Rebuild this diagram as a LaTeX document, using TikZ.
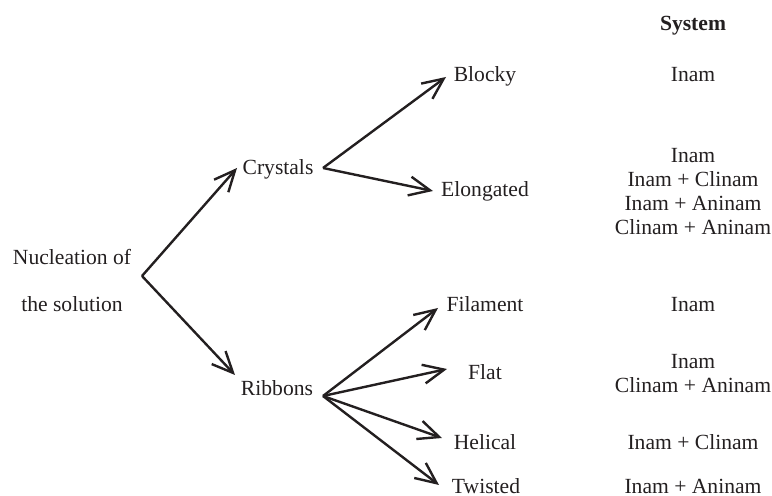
\documentclass[tikz,border=0pt]{standalone}
\usepackage{fontspec}
\setmainfont{Liberation Serif}
\usetikzlibrary{arrows.meta}
\definecolor{ink}{HTML}{231F20}
\tikzset{
    txt/.style = {anchor=base, inner sep=0pt, align=center, text=ink,
        font=\fontsize{10.8}{12.15}\selectfont},
    branch/.style = {draw=ink, line width=1.2pt,
        -{Straight Barb[length=10.5pt,width=9.5pt]}}
}

\begin{document}
\begin{tikzpicture}[x=0.5pt,y=-0.5pt]
                \useasboundingbox (0,0) rectangle (772,496);
                % labels
                \node[txt] (nucleation) at (72,312) {Nucleation of\\[11.35pt]the solution};
                \node[txt] (crystals) at (278,175) {Crystals};
                \node[txt] (ribbons) at (277,396) {Ribbons};
                \node[txt] (blocky) at (485,82) {Blocky};
                \node[txt] (elongated) at (485,197) {Elongated};
                \node[txt] (filament) at (485,312) {Filament};
                \node[txt] (flat) at (485,380) {Flat};
                \node[txt] (helical) at (485,450) {Helical};
                \node[txt] (twisted) at (486,494) {Twisted};
                % system column
                \node[txt, font=\fontsize{10.8}{12.15}\selectfont\bfseries] (system) at (693,31) {System};
                \node[txt] (sysBlocky) at (693,82) {Inam};
                \node[txt] (sysElongated) at (693,235) {Inam\\Inam + Clinam\\Inam + Aninam\\Clinam + Aninam};
                \node[txt] (sysFilament) at (693,312) {Inam};
                \node[txt] (sysFlat) at (693,393) {Inam\\Clinam + Aninam};
                \node[txt] (sysHelical) at (693,450) {Inam + Clinam};
                \node[txt] (sysTwisted) at (693,494) {Inam + Aninam};
                % branch points and arrow tips
                \coordinate (nucFork) at (142,276);
                \coordinate (cryFork) at (323,168);
                \coordinate (ribFork) at (323,396);
                \coordinate (cryTip) at (237,168);
                \coordinate (ribTip) at (235,375);
                \coordinate (blockyTip) at (446,77);
                \coordinate (elongatedTip) at (433,191);
                \coordinate (filamentTip) at (438,308);
                \coordinate (flatTip) at (447,369);
                \coordinate (helicalTip) at (442,438);
                \coordinate (twistedTip) at (439,485);
                % arrows
                \draw[branch] (nucFork) -- (cryTip);
                \draw[branch] (nucFork) -- (ribTip);
                \draw[branch] (cryFork) -- (blockyTip);
                \draw[branch] (cryFork) -- (elongatedTip);
                \draw[branch] (ribFork) -- (filamentTip);
                \draw[branch] (ribFork) -- (flatTip);
                \draw[branch] (ribFork) -- (helicalTip);
                \draw[branch] (ribFork) -- (twistedTip);
\end{tikzpicture}
\end{document}
